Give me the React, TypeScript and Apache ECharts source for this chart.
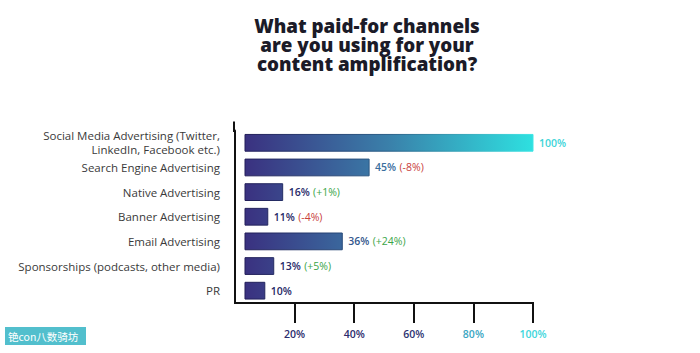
import React, { useEffect, useRef } from "react";
import * as echarts from "echarts";

const categories = [
  "Social Media Advertising (Twitter,\nLinkedIn, Facebook etc.)",
  "Search Engine Advertising",
  "Native Advertising",
  "Banner Advertising",
  "Email Advertising",
  "Sponsorships (podcasts, other media)",
  "PR",
];
const values = [100, 45, 16, 11, 36, 13, 10];
const changes = ["", "-8%", "+1%", "-4%", "+24%", "+5%", ""];
const tickValues = [20, 40, 60, 80, 100];

const titleText = "What paid-for channels\nare you using for your\ncontent amplification?";

const FONT = "'Open Sans', 'Noto Sans', sans-serif";

const barStops = [
  { offset: 0, color: "#3a3180" },
  { offset: 0.5, color: "#3a80aa" },
  { offset: 1, color: "#2ee0e0" },
];
const borderStops = [
  { offset: 0, color: "#211c58" },
  { offset: 0.5, color: "#2a5f88" },
  { offset: 1, color: "#3fe6e6" },
];
const labelStops: [number, string][] = [
  [0, "#22215c"],
  [0.2, "#2a2f6e"],
  [0.45, "#3a6e9e"],
  [1, "#3dd4d8"],
];

function hex(h: string) {
  const n = parseInt(h.slice(1), 16);
  return [(n >> 16) & 255, (n >> 8) & 255, n & 255];
}
function colorAt(t: number) {
  for (let i = 1; i < labelStops.length; i++) {
    const [o1, c1] = labelStops[i - 1];
    const [o2, c2] = labelStops[i];
    if (t <= o2) {
      const f = (t - o1) / (o2 - o1);
      const a = hex(c1), b = hex(c2);
      const m = a.map((x, k) => Math.round(x + (b[k] - x) * f));
      return `rgb(${m[0]},${m[1]},${m[2]})`;
    }
  }
  return labelStops[labelStops.length - 1][1];
}

const tickColors: Record<number, string> = {
  20: "#2b2b6c",
  40: "#2b2b6c",
  60: "#2d3372",
  80: "#3aa6c2",
  100: "#3dd6dc",
};

export default function App() {
  const ref = useRef<HTMLDivElement>(null);
  useEffect(() => {
    if (!ref.current) return;
    const chart = echarts.init(ref.current, null, { renderer: "svg" });
    const tickRich: Record<string, any> = {};
    tickValues.forEach((t) => {
      tickRich["t" + t] = {
        color: tickColors[t],
        fontFamily: FONT,
        fontSize: 10.5,
        fontWeight: 600,
      };
    });
    chart.setOption({
      animation: false,
      backgroundColor: "#ffffff",
      title: {
        text: titleText,
        left: 362,
        top: 12,
        textAlign: "center",
        textStyle: {
          fontFamily: FONT,
          fontSize: 18.8,
          fontWeight: 800,
          lineHeight: 18.6,
          color: "#1b1b28",
        },
      },
      grid: { left: 235, right: 167, top: 130.5, bottom: 50 },
      xAxis: {
        type: "value",
        min: 0,
        max: 100,
        interval: 20,
        splitLine: { show: false },
        axisLine: { show: true, lineStyle: { color: "#111", width: 2, cap: "square" } },
        axisTick: {
          show: true,
          customValues: tickValues,
          length: 20,
          lineStyle: { color: "#111", width: 2 },
        },
        axisLabel: {
          customValues: tickValues,
          margin: 25,
          formatter: (v: number) => `{t${v}|${v}%}`,
          rich: tickRich,
        },
      },
      yAxis: {
        type: "category",
        data: categories,
        inverse: true,
        offset: 1,
        axisLine: { show: true, lineStyle: { color: "#111", width: 2 } },
        axisTick: { show: false },
        axisLabel: {
          margin: 14,
          color: "#3a3a3a",
          fontFamily: FONT,
          fontSize: 11.5,
          lineHeight: 14,
          align: "right",
        },
      },
      graphic: [
        {
          type: "line",
          shape: { x1: 234, y1: 121.5, x2: 234, y2: 132 },
          style: { stroke: "#111", lineWidth: 2 },
        },
        {
          type: "group",
          children: [
            {
              type: "rect",
              shape: { x: 5, y: 327, width: 81, height: 18 },
              style: { fill: "#3fb8c8", opacity: 0.9 },
            },
            {
              type: "text",
              x: 8,
              y: 336,
              style: {
                text: "铯con八数骑坊",
                fill: "#ffffff",
                font: "10.5px 'Noto Sans CJK SC', sans-serif",
                textVerticalAlign: "middle",
                verticalAlign: "middle",
              },
            },
          ],
        },
      ],
      series: [
        {
          type: "custom",
          encode: { x: 0, y: 1 },
          data: values.map((v, i) => [v, i]),
          renderItem: (params: any, api: any) => {
            const v = api.value(0);
            const idx = api.value(1);
            const p0 = api.coord([0, idx]);
            const p1 = api.coord([v, idx]);
            const pMax = api.coord([100, idx]);
            const band = api.size([0, 1])[1];
            const h = band * 0.68;
            const x0 = p0[0] + 10;
            const fill = new echarts.graphic.LinearGradient(x0, 0, pMax[0], 0, barStops, true);
            const stroke = new echarts.graphic.LinearGradient(x0, 0, pMax[0], 0, borderStops, true);
            const chg = changes[idx];
            const chgColor = chg.startsWith("-") ? "#c9403c" : "#3aa548";
            const text = chg ? `{v|${v}%} {c|(${chg})}` : `{v|${v}%}`;
            return {
              type: "group",
              children: [
                {
                  type: "rect",
                  shape: { x: x0, y: p1[1] - h / 2, width: p1[0] - x0, height: h },
                  style: { fill, stroke, lineWidth: 1 },
                },
                {
                  type: "text",
                  x: p1[0] + 6,
                  y: p1[1],
                  style: {
                    text,
                    align: "left",
                    verticalAlign: "middle",
                    textAlign: "left",
                    textVerticalAlign: "middle",
                    rich: {
                      v: {
                        fill: colorAt(v / 100),
                        fontFamily: FONT,
                        fontSize: 10.5,
                        fontWeight: 600,
                      },
                      c: {
                        fill: chgColor,
                        fontFamily: FONT,
                        fontSize: 10.5,
                        fontWeight: 500,
                      },
                    },
                  },
                },
              ],
            };
          },
        },
      ],
    });
    return () => chart.dispose();
  }, []);
  return (
    <div
      ref={ref}
      style={{ position: "fixed", left: 0, top: 0, width: 700, height: 353 }}
    />
  );
}
